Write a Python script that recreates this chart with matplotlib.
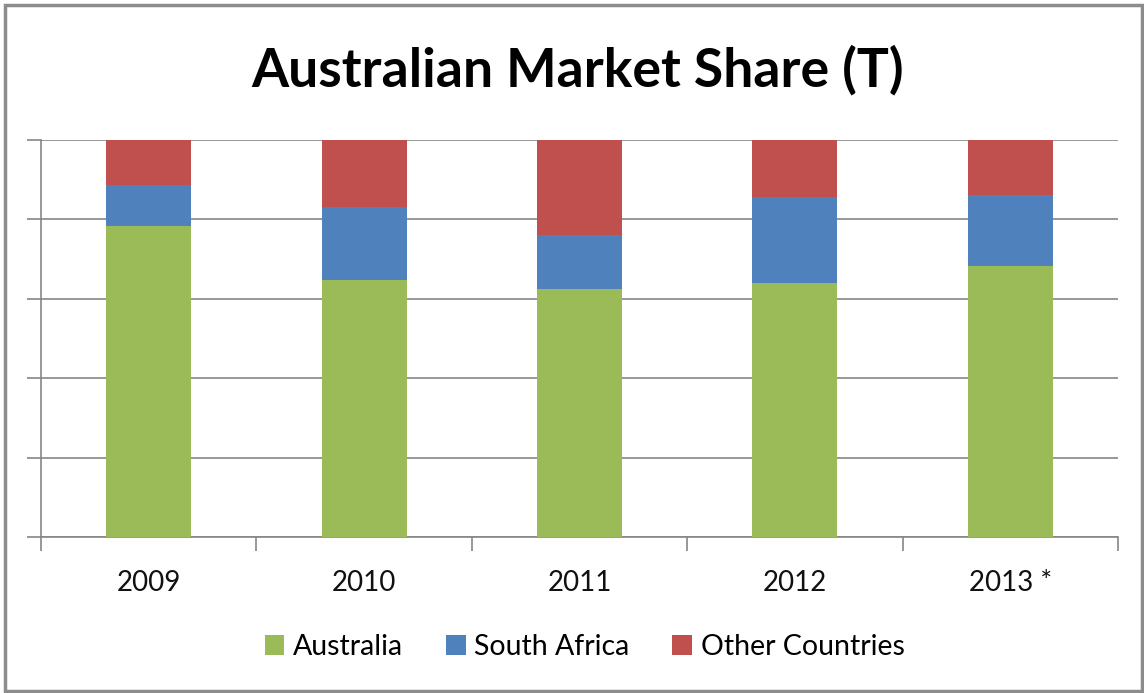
import matplotlib.pyplot as plt
import numpy as np
from matplotlib.patches import Rectangle

years = ['2009', '2010', '2011', '2012', '2013 *']
australia = [78.3, 64.7, 62.5, 64.0, 68.3]
south_africa = [10.4, 18.4, 13.6, 21.6, 17.9]
other = [11.3, 16.9, 23.9, 14.4, 13.8]

green = '#9BBB59'
blue = '#4F81BD'
red = '#C0504D'
grid = '#868686'

plt.rcParams['font.family'] = ['Lato', 'DejaVu Sans']

fig = plt.figure(figsize=(11.44, 6.93), dpi=100)
ax = fig.add_axes([0.0358, 0.2251, 0.9415, 0.5729])

x = np.arange(len(years))
w = 0.395
ax.bar(x, australia, w, color=green, label='Australia', zorder=3)
ax.bar(x, south_africa, w, bottom=australia, color=blue, label='South Africa', zorder=3)
bottom2 = np.array(australia) + np.array(south_africa)
ax.bar(x, other, w, bottom=bottom2, color=red, label='Other Countries', zorder=3)

ax.set_xlim(-0.5, len(years) - 0.5)
ax.set_ylim(0, 100)
ax.set_yticks(np.arange(0, 101, 20))
ax.set_yticklabels([])
ax.yaxis.grid(True, color=grid, lw=1.2, zorder=0)
ax.tick_params(axis='y', length=10, color=grid, width=1.2, direction='out')

ax.set_xticks(x)
ax.set_xticklabels(years, fontsize=20, color='#111111')
ax.tick_params(axis='x', length=0, pad=24)
ax.set_xticks(np.arange(-0.5, len(years), 1), minor=True)
ax.tick_params(axis='x', which='minor', length=10, color=grid, width=1.2, direction='out')

for s in ['top', 'right']:
    ax.spines[s].set_visible(False)
ax.spines['left'].set_color(grid)
ax.spines['bottom'].set_color(grid)
ax.spines['left'].set_linewidth(1.2)
ax.spines['bottom'].set_linewidth(1.2)

fig.text(0.505, 0.899, 'Australian Market Share (T)', ha='center', va='center',
         fontsize=38.5, fontweight='bold', color='black')

fig.legend(loc='center', bbox_to_anchor=(0.511, 0.066), ncol=3, frameon=False,
           fontsize=20.5, handlelength=0.7, handleheight=0.7, handletextpad=0.3,
           columnspacing=1.5)

fig.add_artist(Rectangle((0.004, 0.003), 0.994, 0.99, transform=fig.transFigure,
                         fill=False, edgecolor='#8c8c8c', lw=2.5))

fig.savefig('out.png', dpi=100)
